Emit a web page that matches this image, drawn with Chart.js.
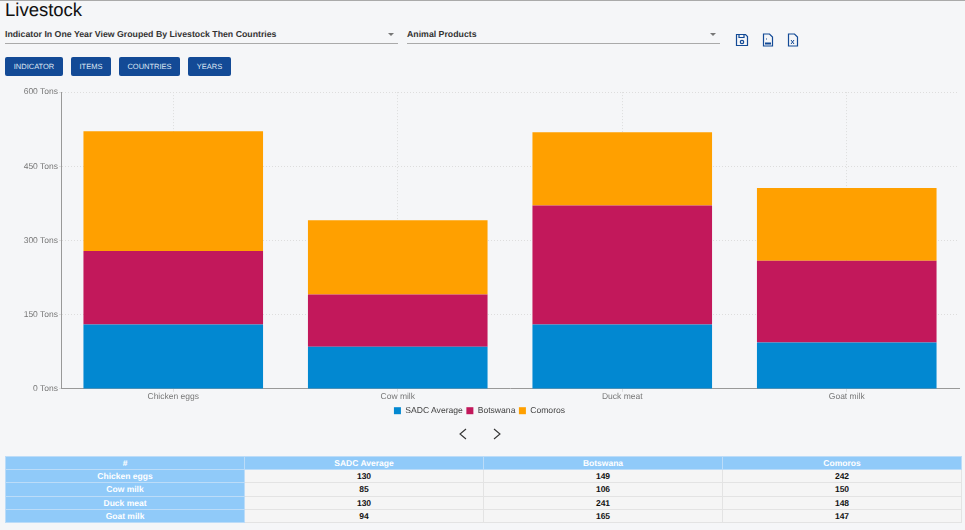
<!DOCTYPE html>
<html>
<head>
<meta charset="utf-8">
<title>Livestock</title>
<script src="https://cdn.jsdelivr.net/npm/chart.js@4"></script>
<style>
html, body { margin: 0; padding: 0; }
body { width: 965px; height: 530px; overflow: hidden; background: #f5f6f8; font-family: "Liberation Sans", Arial, sans-serif; position: relative; text-rendering: geometricPrecision; }
.topline { position: absolute; left: 0; top: 0; width: 965px; height: 1px; background: #aaa; }
h1 { position: absolute; left: 5px; top: -2px; margin: 0; font-size: 18.5px; font-weight: 400; color: #111; line-height: 24px; }
.select { position: absolute; top: 25px; height: 18px; border-bottom: 1px solid #aaa; font-size: 8.75px; font-weight: 700; color: #333; line-height: 19px; }
.select:after { content: ""; position: absolute; right: 4px; top: 8px; border: 3px solid transparent; border-top: 3px solid #777; }
.btn { position: absolute; top: 56.5px; height: 19.5px; background: #134a96; color: #dfe8f4; font-size: 7.5px; line-height: 19.5px; text-align: center; border-radius: 2px; }
.icon { position: absolute; top: 33px; }
#wrap { position: absolute; left: 0; top: 85.5px; width: 965px; height: 339px; }
.nav { position: absolute; top: 428px; }
table { position: absolute; left: 5px; top: 456px; width: 957px; height: 67px; border-collapse: collapse; table-layout: fixed; font-size: 8.5px; font-weight: 700; text-align: center; }
th { background: #90caf9; color: #fff; border: 1px solid #bcdcf8; padding: 0; font-weight: 700; }
td { color: #111; background: #f5f5f5; border: 1px solid #e3e3e3; padding: 0; }
</style>
</head>
<body>
<div class="topline"></div>
<h1>Livestock</h1>
<div class="select" style="left:5px;width:393px">Indicator In One Year View Grouped By Livestock Then Countries</div>
<div class="select" style="left:407px;width:313px">Animal Products</div>
<svg class="icon" style="left:735px" width="14" height="14" viewBox="0 0 14 14" fill="none" stroke="#134a96" stroke-width="1.2"><path d="M1.5 1.5h9l2 2v9h-11z"/><path d="M4 1.5v3h5v-3"/><circle cx="7" cy="9" r="1.7"/></svg>
<svg class="icon" style="left:761px" width="14" height="14" viewBox="0 0 14 14" fill="none" stroke="#134a96" stroke-width="1.2"><path d="M2.5 1h6l3 3v9h-9z"/><path d="M4 10.5h6" stroke-width="2"/><path d="M5 6h1"/></svg>
<svg class="icon" style="left:786px" width="14" height="14" viewBox="0 0 14 14" fill="none" stroke="#134a96" stroke-width="1.2"><path d="M2.5 1h6l3 3v9h-9z"/><path d="M5 7l3 4M8 7l-3 4" stroke-width="1"/></svg>
<div class="btn" style="left:5px;width:58px">INDICATOR</div>
<div class="btn" style="left:71px;width:40px">ITEMS</div>
<div class="btn" style="left:119px;width:61px">COUNTRIES</div>
<div class="btn" style="left:188px;width:43px">YEARS</div>
<div id="wrap"><canvas id="livestockChart"></canvas></div>
<svg class="nav" style="left:458px" width="10" height="12" viewBox="0 0 10 12" fill="none" stroke="#333" stroke-width="1.1"><path d="M8 1L2 6l6 5"/></svg>
<svg class="nav" style="left:492px" width="10" height="12" viewBox="0 0 10 12" fill="none" stroke="#333" stroke-width="1.1"><path d="M2 1l6 5-6 5"/></svg>
<table id="dataTable"></table>
<script>
const categories = ['Chicken eggs', 'Cow milk', 'Duck meat', 'Goat milk'];
const sadcAverage = [130, 85, 130, 94];
const botswana = [149, 106, 241, 165];
const comoros = [242, 150, 148, 147];
const yTicks = [0, 150, 300, 450, 600];
const chartFont = '"Liberation Sans", Arial, sans-serif';

// Table under the chart
function buildTable() {
    const rows = [['#', 'SADC Average', 'Botswana', 'Comoros']];
    categories.forEach((name, i) => {
        rows.push([name, sadcAverage[i], botswana[i], comoros[i]]);
    });
    document.getElementById('dataTable').innerHTML = rows.map((row, r) =>
        '<tr>' + row.map((cell, c) => {
            const tag = (r === 0 || c === 0) ? 'th' : 'td';
            return `<${tag}>${cell}</${tag}>`;
        }).join('') + '</tr>'
    ).join('');
}
buildTable();

// Canvas text without hinting, otherwise small labels come out too wide
const preciseText = {
    id: 'preciseText',
    beforeLayout(chart) { chart.ctx.textRendering = 'geometricPrecision'; },
    beforeDraw(chart) { chart.ctx.textRendering = 'geometricPrecision'; }
};

new Chart(document.getElementById('livestockChart'), {
    type: 'bar',
    data: {
        labels: categories,
        datasets: [
            { label: 'SADC Average', data: sadcAverage, backgroundColor: '#0288d1' },
            { label: 'Botswana', data: botswana, backgroundColor: '#c2185b' },
            { label: 'Comoros', data: comoros, backgroundColor: '#ffa000' }
        ]
    },
    plugins: [preciseText],
    options: {
        responsive: true,
        maintainAspectRatio: false,
        animation: false,
        layout: { padding: { top: 5.5, right: 6 } },
        datasets: { bar: { barPercentage: 0.8, categoryPercentage: 1 } },
        plugins: {
            tooltip: { enabled: false },
            legend: {
                position: 'bottom',
                labels: { boxWidth: 7, boxHeight: 7, padding: 3.5, color: '#444', font: { size: 8.6, family: chartFont } }
            }
        },
        scales: {
            x: {
                stacked: true,
                afterFit: axis => { axis.height = 14; },
                grid: { offset: false, color: '#ddd', tickLength: 3 },
                border: { color: '#999', dash: [1, 2] },
                ticks: { color: '#777', font: { size: 8.5, family: chartFont }, padding: 0, maxRotation: 0 }
            },
            y: {
                stacked: true,
                min: 0,
                max: 600,
                afterBuildTicks: axis => { axis.ticks = yTicks.map(v => ({ value: v })); },
                afterFit: axis => { axis.width = 61; },
                grid: { color: '#ddd', tickLength: 2 },
                border: { color: '#999', dash: [1, 2] },
                ticks: { color: '#777', font: { size: 8.5, family: chartFont }, padding: 1, callback: v => v + ' Tons' }
            }
        }
    }
});
</script>
</body>
</html>
